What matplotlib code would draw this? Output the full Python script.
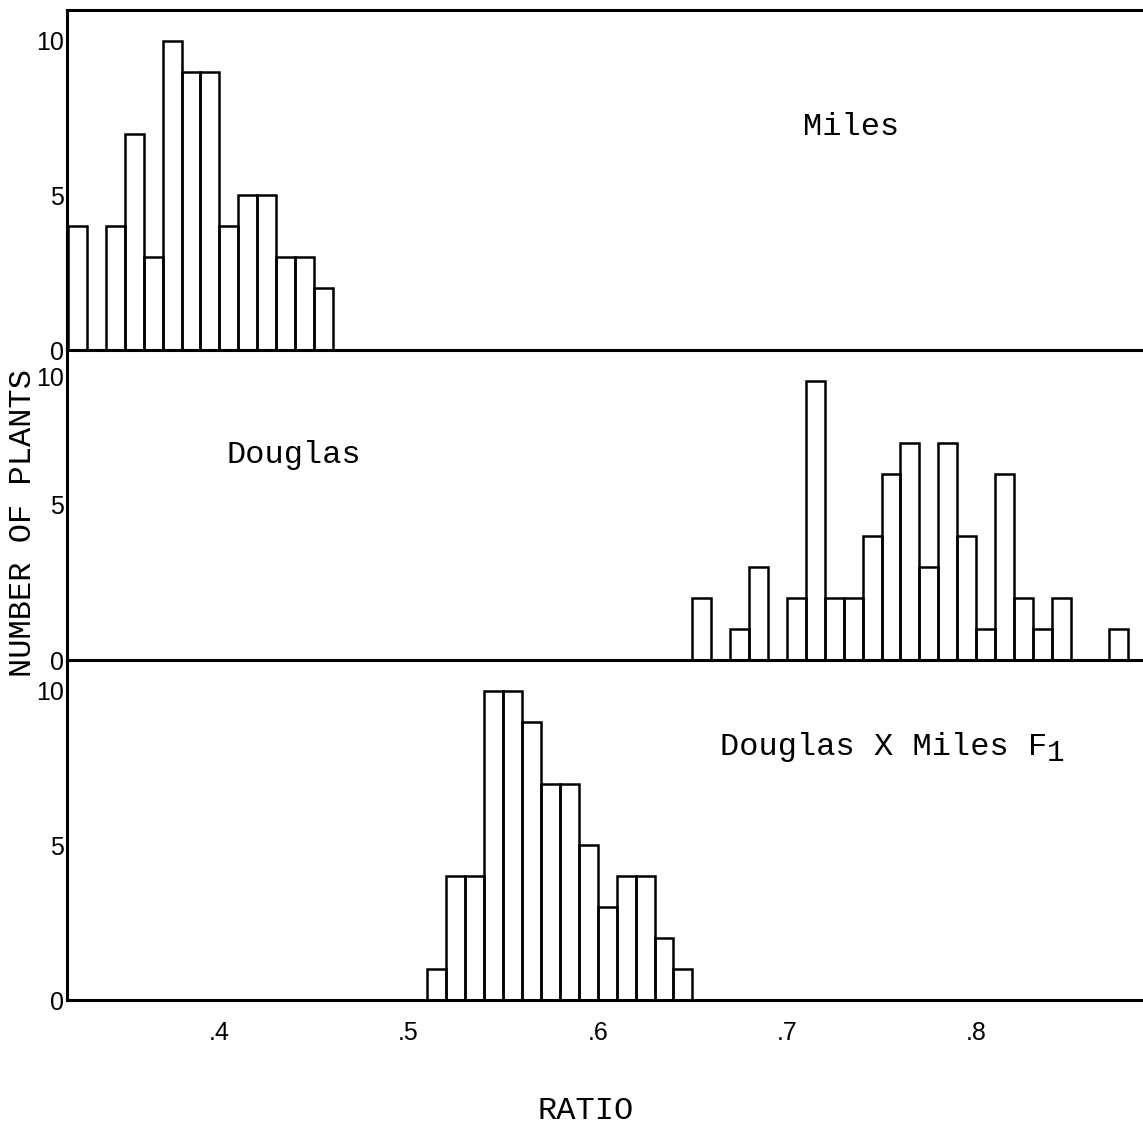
import numpy as np
import matplotlib
matplotlib.use("Agg")
import matplotlib.pyplot as plt
import matplotlib.transforms as mtransforms

BIN = 0.01

# bin left edges start and counts (number of plants per bin)
miles_start = 0.32
miles_counts = [4, 0, 4, 7, 3, 10, 9, 9, 4, 5, 5, 3, 3, 2]

douglas_start = 0.65
douglas_counts = [2, 0, 1, 3, 0, 2, 9, 2, 2, 4, 6, 7, 3, 7, 4, 1, 6, 2, 1, 2, 0, 0, 1]

f1_start = 0.51
f1_counts = [1, 4, 4, 10, 10, 9, 7, 7, 5, 3, 4, 4, 2, 1]

x_ticks = [0.4, 0.5, 0.6, 0.7, 0.8]
x_ticklabels = [".4", ".5", ".6", ".7", ".8"]

MONO = "Liberation Mono"
SANS = "Liberation Sans"
W, H = 1143, 1126
fig = plt.figure(figsize=(W / 100, H / 100), dpi=100)

left = 67 / W
width = 1 - left
# panel pixel extents (top, bottom) and y max
panels = [(10, 350, 11), (350, 660, 10), (660, 1000, 11)]
data = [(miles_start, miles_counts), (douglas_start, douglas_counts), (f1_start, f1_counts)]
xlim = (0.32 - 1 / 1892, 0.32 + (W - 68) / 1892)

axes = []
for (top, bot, ymax), (start, counts) in zip(panels, data):
    ax = fig.add_axes([left, 1 - bot / H, width, (bot - top) / H])
    edges = start + BIN * np.arange(len(counts))
    ax.bar(edges, counts, width=BIN, align="edge", fill=False,
           edgecolor="black", linewidth=1.8)
    ax.set_xlim(*xlim)
    ax.set_ylim(0, ymax)
    ax.set_yticks([0, 5, 10])
    ax.set_yticklabels(["0", "5", "10"], fontfamily=SANS, fontsize=18)
    ax.tick_params(axis="y", length=0, pad=2)
    ax.spines["right"].set_visible(False)
    ax.spines["top"].set_visible(top == 10)
    for s in ["left", "bottom", "top"]:
        ax.spines[s].set_linewidth(2.2)
    ax.patch.set_alpha(0)
    axes.append(ax)

# middle panel: "10" label sits a little below the top border
lab = axes[1].get_yticklabels()[2]
lab.set_transform(lab.get_transform() + mtransforms.ScaledTranslation(0, -26 / 100, fig.dpi_scale_trans))

for ax in axes[:2]:
    ax.set_xticks([])
axes[2].set_xticks(x_ticks)
axes[2].set_xticklabels(x_ticklabels, fontfamily=SANS, fontsize=18)
axes[2].tick_params(axis="x", length=0, pad=15)

axes[0].text(0.7085, 7.2, "Miles", fontfamily=MONO, fontsize=23, va="center", ha="left")
axes[1].text(0.404, 6.6, "Douglas", fontfamily=MONO, fontsize=23, va="center", ha="left")
cross = axes[2].text(0.6646, 8.2, "Douglas X Miles F", fontfamily=MONO, fontsize=23,
                     va="center", ha="left")
axes[2].annotate("1", xy=(1, 0), xycoords=cross, xytext=(0, -4), textcoords="offset points",
                 fontfamily=MONO, fontsize=21, ha="left", va="bottom")

fig.text(23 / W, 1 - 523 / H, "NUMBER OF PLANTS", fontfamily=MONO, fontsize=23,
         rotation=90, va="center", ha="center")
fig.text(586 / W, 1 - 1111 / H, "RATIO", fontfamily=MONO, fontsize=23,
         va="center", ha="center")

fig.savefig("out.png", dpi=100)
